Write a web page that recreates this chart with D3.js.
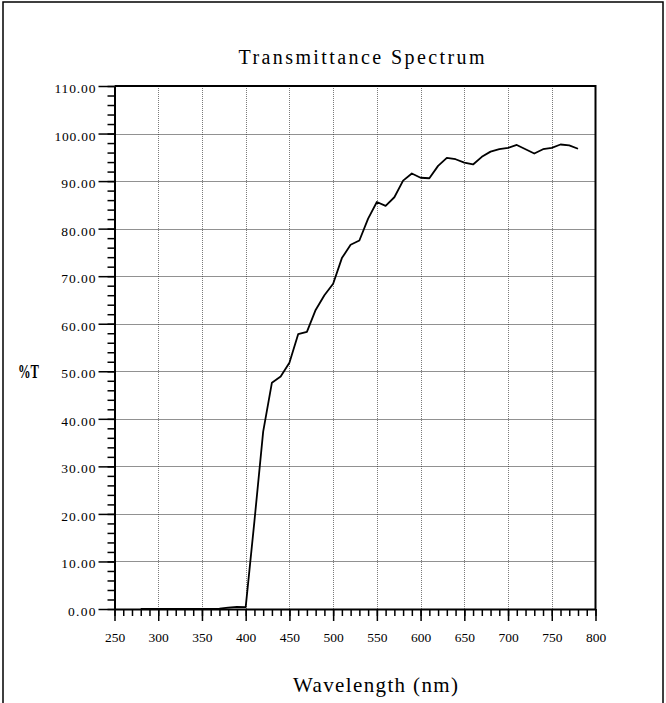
<!DOCTYPE html>
<html>
<head>
<meta charset="utf-8">
<script src="https://cdn.jsdelivr.net/npm/d3@7"></script>
<style>
  body { margin: 0; background: #fff; }
  svg { display: block; }
  text { font-family: "Liberation Serif", "DejaVu Serif", serif; fill: #000; }
</style>
</head>
<body>
<div id="chart"></div>
<script>
// Wavelength (nm) and transmittance (%T)
const wavelengths = [280, 290, 300, 310, 320, 330, 340, 350, 360, 370, 380, 390, 400,
    410, 420, 430, 440, 450, 460, 470, 480, 490, 500, 510, 520, 530, 540, 550, 560,
    570, 580, 590, 600, 610, 620, 630, 640, 650, 660, 670, 680, 690, 700, 710, 720,
    730, 740, 750, 760, 770, 780];
const transmittance = [0, 0, 0, 0, 0, 0, 0, 0, 0, 0.1, 0.3, 0.45, 0.4,
    18.5, 37.3, 47.6, 48.9, 51.8, 57.8, 58.3, 62.9, 66.0, 68.4, 73.8, 76.6, 77.5, 82.1, 85.6, 84.8,
    86.6, 90.1, 91.6, 90.7, 90.6, 93.2, 94.9, 94.6, 93.9, 93.5, 95.1, 96.2, 96.7, 97.0, 97.6, 96.7,
    95.8, 96.7, 97.0, 97.7, 97.5, 96.8];

const xMajorTicks = [250, 300, 350, 400, 450, 500, 550, 600, 650, 700, 750, 800];
const yMajorTicks = [0, 10, 20, 30, 40, 50, 60, 70, 80, 90, 100, 110];

const chartTitle = "Transmittance Spectrum";
const xTitle = "Wavelength (nm)";
const yTitle = "%T";

const W = 666, H = 703;
const plot = {left: 114.5, right: 595.5, top: 86, bottom: 609};

const data = wavelengths.map((w, i) => ({w: w, t: transmittance[i]}));

const svg = d3.select("#chart").append("svg")
    .attr("width", W)
    .attr("height", H);

// outer frame
svg.append("rect")
    .attr("x", 3).attr("y", 2)
    .attr("width", 660).attr("height", 740)
    .attr("fill", "none")
    .attr("stroke", "#000")
    .attr("stroke-width", 1.5);

const x = d3.scaleLinear().domain([250, 800]).range([plot.left, plot.right]);
const y = d3.scaleLinear().domain([0, 110]).range([plot.bottom, plot.top]);

// grid (dotted)
svg.append("g").selectAll("line")
    .data(xMajorTicks.slice(1, -1))
    .join("line")
    .attr("x1", d => Math.round(x(d)) + 0.5).attr("x2", d => Math.round(x(d)) + 0.5)
    .attr("y1", plot.top).attr("y2", plot.bottom)
    .attr("stroke", "#7a7a7a")
    .attr("stroke-width", 1)
    .attr("stroke-dasharray", "1,1");
svg.append("g").selectAll("line")
    .data(yMajorTicks.slice(1, -1))
    .join("line")
    .attr("x1", plot.left).attr("x2", plot.right)
    .attr("y1", d => Math.round(y(d)) + 0.5).attr("y2", d => Math.round(y(d)) + 0.5)
    .attr("stroke", "#222")
    .attr("stroke-width", 1)
    .attr("stroke-dasharray", "1,1");

// box top and right
svg.append("path")
    .attr("d", `M${plot.left},${plot.top}H${plot.right}V${plot.bottom}`)
    .attr("fill", "none")
    .attr("stroke", "#000")
    .attr("stroke-width", 2);

// x axis: minor ticks every 10 nm, major every 50
const xAxisG = svg.append("g").attr("transform", `translate(0,${plot.bottom})`);
xAxisG.append("g")
    .call(d3.axisBottom(x).tickValues(d3.range(250, 801, 10)).tickSize(7).tickFormat(""))
    .call(g => g.select(".domain").remove());
xAxisG.append("g")
    .call(d3.axisBottom(x).tickValues(xMajorTicks).tickSize(12).tickSizeOuter(0).tickFormat(d3.format("d")))
    .call(g => g.select(".domain").attr("stroke-width", 2))
    .call(g => g.selectAll("text")
        .attr("y", 33)
        .attr("dy", null)
        .style("font-size", "13.5px")
        .style("font-family", "'Liberation Serif', serif"));
xAxisG.selectAll("line").attr("stroke-width", 1.5);

// y axis: minor ticks every 2, major every 10
const fmtY = d3.format(".2f");
const yAxisG = svg.append("g").attr("transform", `translate(${plot.left},0)`);
yAxisG.append("g")
    .call(d3.axisLeft(y).tickValues(d3.range(0, 111, 2)).tickSize(7).tickFormat(""))
    .call(g => g.select(".domain").remove());
yAxisG.append("g")
    .call(d3.axisLeft(y).tickValues(yMajorTicks).tickSize(16).tickSizeOuter(0).tickPadding(3).tickFormat(fmtY))
    .call(g => g.select(".domain").attr("stroke-width", 2))
    .call(g => g.selectAll("text")
        .attr("dy", "0.48em")
        .attr("textLength", d => fmtY(d).length * 6.85)
        .attr("lengthAdjust", "spacing")
        .style("font-size", "13.5px")
        .style("font-family", "'Liberation Serif', serif"));
yAxisG.selectAll("line").attr("stroke-width", 1.5);

// spectrum line
svg.append("path")
    .datum(data)
    .attr("fill", "none")
    .attr("stroke", "#000")
    .attr("stroke-width", 1.8)
    .attr("stroke-linejoin", "round")
    .attr("d", d3.line().x(d => x(d.w)).y(d => y(d.t)));

// titles
svg.append("text")
    .attr("x", 238.5).attr("y", 63.5)
    .attr("textLength", 246)
    .attr("lengthAdjust", "spacing")
    .style("font-size", "20px")
    .text(chartTitle);

svg.append("text")
    .attr("x", 293).attr("y", 691.5)
    .attr("textLength", 165)
    .attr("lengthAdjust", "spacing")
    .style("font-size", "21px")
    .text(xTitle);

svg.append("text")
    .attr("x", 18).attr("y", 378)
    .attr("textLength", 21)
    .attr("lengthAdjust", "spacingAndGlyphs")
    .style("font-size", "19.5px")
    .style("font-weight", "bold")
    .text(yTitle);
</script>
</body>
</html>
